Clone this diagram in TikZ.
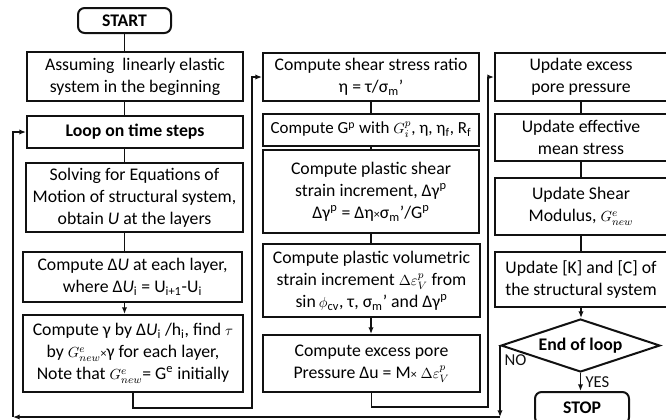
\documentclass[tikz,border=0pt]{standalone}
\usepackage{fontspec}
\setmainfont{Carlito}
\usetikzlibrary{positioning, arrows.meta, shapes.geometric, calc}
\definecolor{ink}{HTML}{111111}
\newcommand\mth[1]{{\fontsize{10.8}{12}\selectfont$#1$}}

\begin{document}
\begin{tikzpicture}[x=0.75pt, y=-0.75pt,
  font=\fontsize{13.3}{16.5}\selectfont,
  box/.style 2 args={draw=ink, line width=1.5pt, align=center, inner sep=0pt,
    minimum width=#1*0.75pt, minimum height=#2*0.75pt},
  term/.style 2 args={box={#1}{#2}, rounded corners=5pt, font=\fontsize{13.3}{16.5}\selectfont\bfseries},
  link/.style={draw=ink, line width=1.1pt},
  tip/.style={link, -{Latex[length=5pt, width=4pt]}},
  lbl/.style={font=\fontsize{12.5}{14}\selectfont, text=ink, inner sep=1pt}]
  \useasboundingbox (0,0) rectangle (666,419);
  \fill[white] (0,0) rectangle (666,419);

  \node[term={93}{25}] (start) at (124.5,20.5) {START};
  \node[box={216}{49}] (assume) at (135,76.5) {Assuming\ \ linearly elastic\\system in the beginning};
  \node[box={216}{32}, font=\fontsize{13.3}{16.5}\selectfont\bfseries] (loop) at (135,132) {Loop on time steps};
  \node[box={217}{69}] (solve) at (134.5,197.5) {Solving for Equations of\\Motion of structural system,\\obtain \textit{U} at the layers};
  \node[box={219}{50}] (du) at (132.5,277) {Compute Δ\textit{U} at each layer,\\where Δ\textit{U}\textsubscript{i} = U\textsubscript{i+1}-U\textsubscript{i}};
  \node[box={220}{77}] (gam) at (133,353.5) {Compute γ by Δ\textit{U}\textsubscript{i} /h\textsubscript{i}, find \mth{\tau}\\by \mth{G^{e}_{new}}{\small×}γ for each layer,\\Note that \mth{G^{e}_{new}}= G\textsuperscript{e} initially};

  \node[box={216}{48}] (ratio) at (371,77) {Compute shear stress ratio\\η = τ/σ\textsubscript{m}'};
  \node[box={216}{32}, font=\fontsize{12.7}{15}\selectfont] (gp) at (371,130) {Compute G\textsuperscript{p} with \mth{G_{i}^{p}}, η, η\textsubscript{f}, R\textsubscript{f}};
  \node[box={216}{83}] (shear) at (371,191.5) {Compute plastic shear\\strain increment, Δγ\textsuperscript{p}\\Δγ\textsuperscript{p} = Δη{\small×}σ\textsubscript{m}'/G\textsuperscript{p}};
  \node[box={217}{73}] (vol) at (371.5,280.5) {Compute plastic volumetric\\strain increment \mth{\Delta\varepsilon_{V}^{p}} from\\sin\,\mth{\phi}\textsubscript{cv}, τ, σ\textsubscript{m}' and Δγ\textsuperscript{p}};
  \node[box={217}{57}] (pore) at (371.5,363.5) {Compute excess pore\\Pressure Δu = M{\small×} \mth{\Delta\varepsilon_{V}^{p}}};

  \node[box={172}{48}] (upore) at (581,77) {Update excess\\pore pressure};
  \node[box={172}{47}] (ueff) at (581,137.5) {Update effective\\mean stress};
  \node[box={172}{57}] (ushear) at (581,206.5) {Update Shear\\Modulus, \mth{G^{e}_{new}}};
  \node[box={172}{55}] (ukc) at (581,279.5) {Update [K] and [C] of\\the structural system};
  \node[draw=ink, line width=1.5pt, diamond, shape aspect=3, inner sep=0pt,
    minimum width=159*0.75pt, minimum height=53*0.75pt,
    font=\fontsize{13.3}{16.5}\selectfont\bfseries] (endloop) at (580.5,345.5) {End of loop};
  \node[term={94}{32}] (stop) at (582,408) {STOP};

  \foreach \a/\b/\c in {start/assume/start, assume/loop/start, loop/solve/start, solve/du/start,
      ratio/gp/ratio, gp/shear/ratio, shear/vol/ratio,
      upore/ueff/upore, ueff/ushear/upore, ushear/ukc/upore}
    \draw[link] (\c.center |- \a.south) -- (\c.center |- \b.north);
  \foreach \a/\b/\c in {du/gam/start, vol/pore/ratio, ukc/endloop/upore, endloop/stop/endloop}
    \draw[tip] (\c.center |- \a.south) -- (\c.center |- \b.north);

  \coordinate (back1) at (252,408);
  \coordinate (back2) at (488,407);
  \coordinate (nobottom) at (13,417);
  \draw[tip] (gam.south) |- (back1) |- (ratio.west);
  \draw[tip] (pore.south) |- (back2) |- (upore.west);
  \draw[tip] (endloop.west) -- (endloop.west |- nobottom);
  \draw[tip] (endloop.west |- nobottom) -- (nobottom);
  \draw[tip] (nobottom) |- (loop.west);

  \node[lbl, anchor=north west] (nolbl) at (503,353) {NO};
  \node[lbl, anchor=west] (yeslbl) at (584,382) {YES};
\end{tikzpicture}
\end{document}
